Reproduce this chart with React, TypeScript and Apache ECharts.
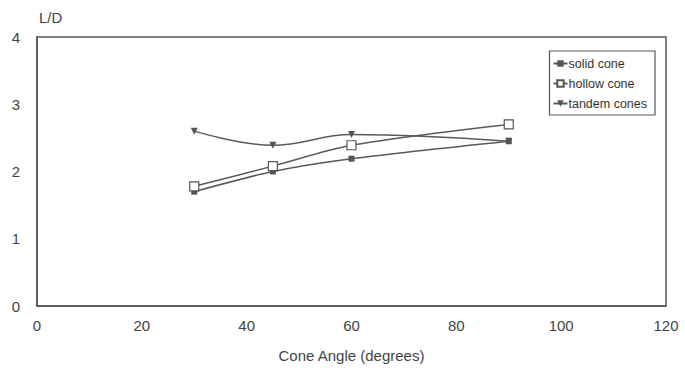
import React, { useEffect, useRef } from "react";
import * as echarts from "echarts";

const angles = [30, 45, 60, 90];
const solidCone = [1.7, 2.0, 2.19, 2.45];
const hollowCone = [1.78, 2.08, 2.39, 2.7];
const tandemCones = [2.6, 2.39, 2.55, 2.45];
const xTicks = [0, 20, 40, 60, 80, 100, 120];
const yTicks = [0, 1, 2, 3, 4];

const pair = (ys: number[]) => angles.map((a, i) => [a, ys[i]]);

export default function App() {
  const ref = useRef<HTMLDivElement>(null);
  useEffect(() => {
    const chart = echarts.init(ref.current!, null, { renderer: "svg" });
    const lineColor = "#5a5a5a";
    const font = "Liberation Sans, Arial, sans-serif";
    chart.setOption({
      animation: false,
      backgroundColor: "#ffffff",
      textStyle: { fontFamily: font },
      grid: {
        left: 37,
        top: 37,
        right: 19,
        bottom: 64,
        show: true,
        borderColor: "#555",
        borderWidth: 1.5,
        backgroundColor: "transparent",
      },
      legend: {
        orient: "vertical",
        right: 30,
        top: 51,
        padding: [6, 8, 5, 3],
        itemGap: 7,
        itemWidth: 14,
        itemHeight: 8,
        borderColor: "#555",
        borderWidth: 1.2,
        textStyle: { fontSize: 12.5, color: "#333", fontFamily: font, padding: [0, 0, 0, -4] },
        data: ["solid cone", "hollow cone", "tandem cones"],
      },
      xAxis: {
        type: "value",
        min: xTicks[0],
        max: xTicks[xTicks.length - 1],
        interval: 20,
        name: "Cone Angle (degrees)",
        nameLocation: "middle",
        nameGap: 42,
        nameTextStyle: { fontSize: 15, color: "#444", fontFamily: font },
        axisLine: { show: true, lineStyle: { color: "#555", width: 1.5 } },
        axisTick: { show: false },
        axisLabel: { fontSize: 15, color: "#444", margin: 12, fontFamily: font },
        splitLine: { show: false },
      },
      yAxis: {
        type: "value",
        min: yTicks[0],
        max: yTicks[yTicks.length - 1],
        interval: 1,
        name: "L/D",
        nameLocation: "end",
        nameGap: 12,
        nameTextStyle: { fontSize: 15, color: "#444", align: "left", padding: [0, 0, 0, 2], fontFamily: font },
        axisLine: { show: true, lineStyle: { color: "#555", width: 1.5 } },
        axisTick: { show: false },
        axisLabel: { fontSize: 15, color: "#444", margin: 17, fontFamily: font },
        splitLine: { show: false },
      },
      series: [
        {
          name: "solid cone",
          type: "line",
          data: pair(solidCone),
          smooth: 0.3,
          symbol: "rect",
          symbolSize: 6,
          itemStyle: { color: "#555" },
          lineStyle: { color: lineColor, width: 1.5 },
        },
        {
          name: "hollow cone",
          type: "line",
          data: pair(hollowCone),
          smooth: 0.3,
          symbol: "rect",
          symbolSize: 9,
          itemStyle: { color: "#ffffff", borderColor: "#555", borderWidth: 1.2 },
          lineStyle: { color: lineColor, width: 1.5 },
        },
        {
          name: "tandem cones",
          type: "line",
          data: pair(tandemCones),
          smooth: 0.4,
          symbol: "triangle",
          symbolRotate: 180,
          symbolSize: 7,
          itemStyle: { color: "#555" },
          lineStyle: { color: lineColor, width: 1.5 },
        },
      ],
    });
    return () => chart.dispose();
  }, []);
  return <div ref={ref} style={{ width: 685, height: 370, position: "absolute", left: 0, top: 0 }} />;
}
